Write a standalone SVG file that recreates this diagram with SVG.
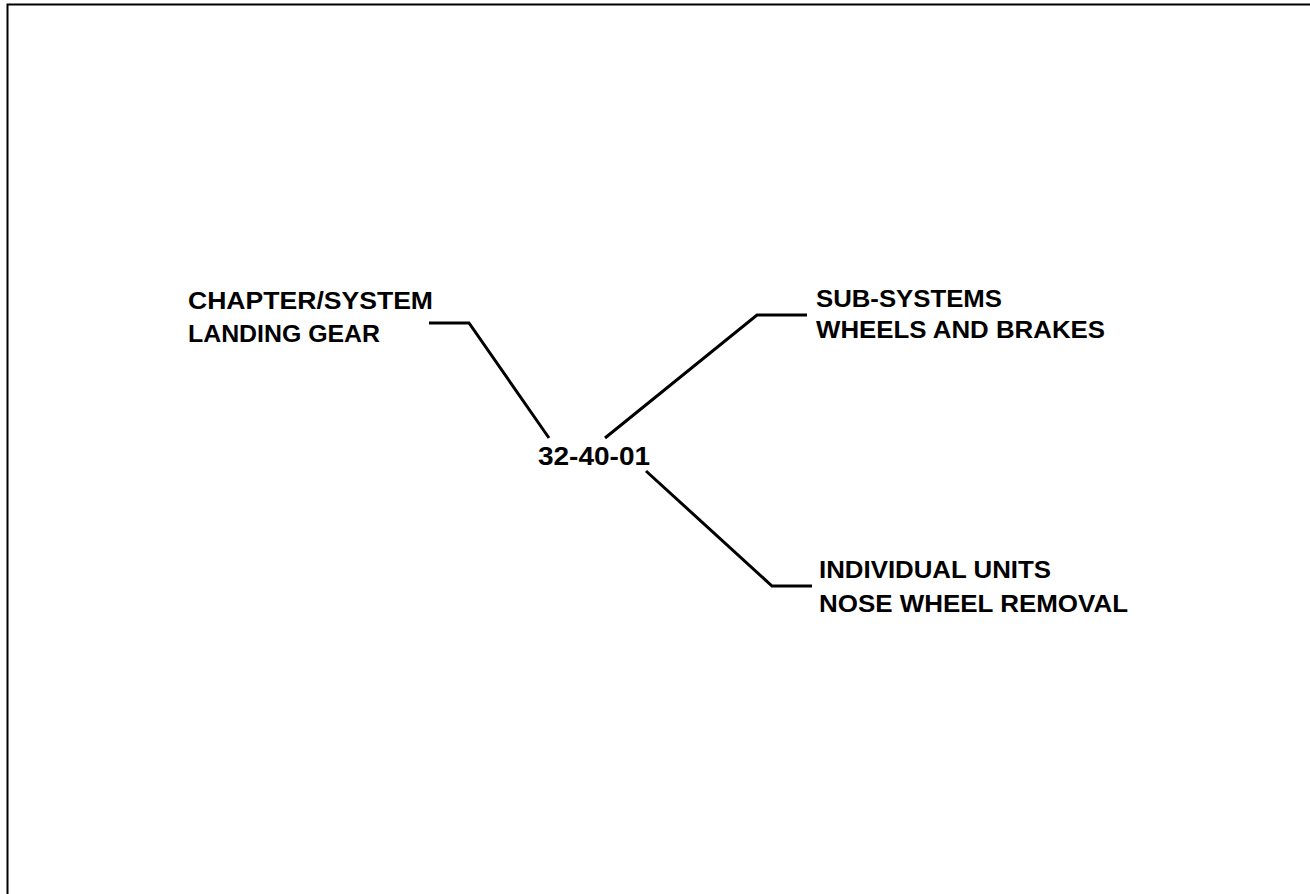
<svg xmlns="http://www.w3.org/2000/svg" width="1310" height="894" viewBox="0 0 1310 894">
<style>
.lbl{font-family:"Liberation Sans",Arial,sans-serif;font-weight:bold;font-size:24px;fill:#000}
.big{font-size:26px}
.conn{fill:none;stroke:#000;stroke-width:3;stroke-linejoin:miter}
.frame{fill:none;stroke:#000;stroke-width:2}
</style>
<rect width="1310" height="894" fill="#fff"/>
<path class="frame" d="M7.5,894 V4.5 H1310"/>
<g id="connectors">
<polyline class="conn" points="429,323 469,323 549,438"/>
<polyline class="conn" points="605,438 757,315 807,315"/>
<polyline class="conn" points="646,471 772,586 812,586"/>
</g>
<g id="node-chapter">
<text class="lbl" x="188" y="309" textLength="245" lengthAdjust="spacingAndGlyphs">CHAPTER/SYSTEM</text>
<text class="lbl" x="188" y="342" textLength="192" lengthAdjust="spacingAndGlyphs">LANDING GEAR</text>
</g>
<g id="node-code">
<text class="lbl big" x="538" y="465" textLength="112" lengthAdjust="spacingAndGlyphs">32-40-01</text>
</g>
<g id="node-subsystems">
<text class="lbl" x="816" y="307" textLength="186" lengthAdjust="spacingAndGlyphs">SUB-SYSTEMS</text>
<text class="lbl" x="816" y="338" textLength="289" lengthAdjust="spacingAndGlyphs">WHEELS AND BRAKES</text>
</g>
<g id="node-units">
<text class="lbl" x="819" y="578" textLength="232" lengthAdjust="spacingAndGlyphs">INDIVIDUAL UNITS</text>
<text class="lbl" x="819" y="612" textLength="309" lengthAdjust="spacingAndGlyphs">NOSE WHEEL REMOVAL</text>
</g>
</svg>
